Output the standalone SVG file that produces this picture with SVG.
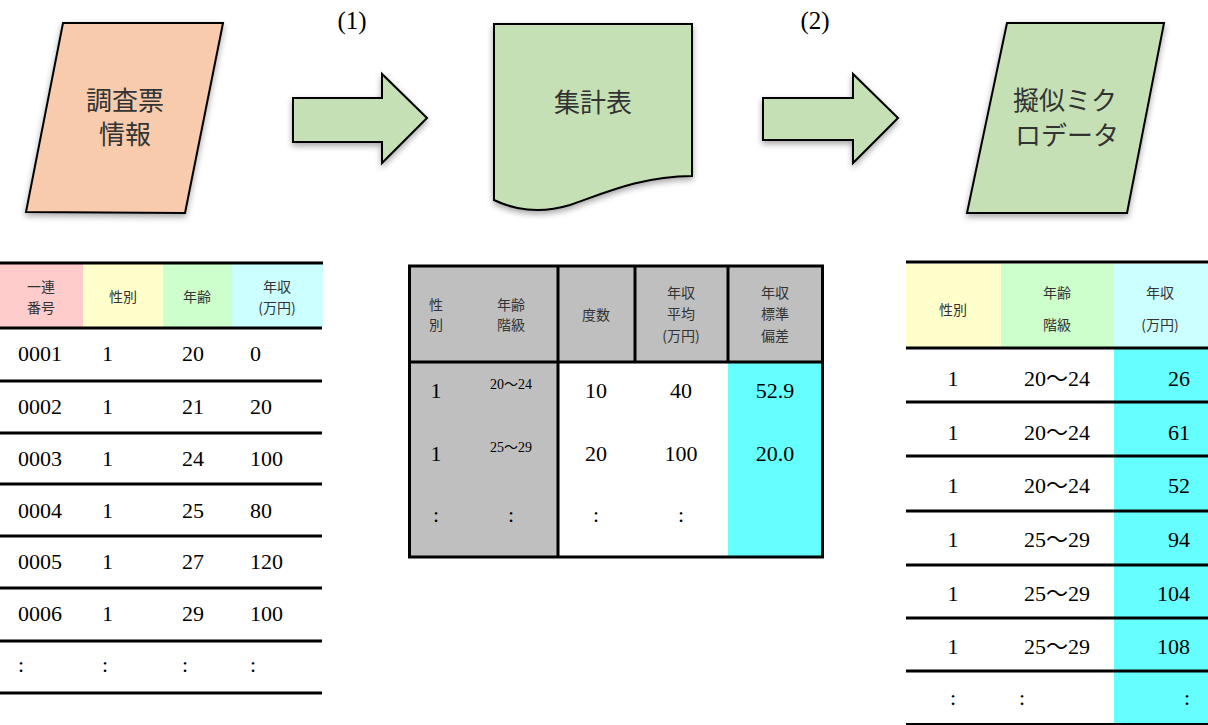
<svg xmlns="http://www.w3.org/2000/svg" width="1208" height="725" viewBox="0 0 1208 725">
<defs>
<filter id="sh" x="-20%" y="-20%" width="140%" height="150%">
<feDropShadow dx="0" dy="3" stdDeviation="3" flood-color="#000" flood-opacity="0.35"/>
</filter>
</defs>
<style>
.shape{stroke:#000;stroke-width:2;stroke-linejoin:miter}
.jp{font-family:"Noto Sans CJK JP","Noto Sans",sans-serif;fill:#333}
.big{font-size:26px}
.hd{font-size:14px;text-anchor:middle}
.ln{stroke:#000;stroke-width:3}
.thin{stroke:#000;stroke-width:2}
</style>
<rect width="1208" height="725" fill="#fff"/>

<g id="node-survey">
<polygon class="shape" filter="url(#sh)" points="63,23 223,23 185,213 26,212" fill="#F8CBAD"/>
<text class="jp big" x="125" y="110" text-anchor="middle">調査票</text>
<text class="jp big" x="125" y="144" text-anchor="middle">情報</text>
</g>

<g id="node-table">
<path class="shape" filter="url(#sh)" d="M494,24 L692,24 L692,176 C640,176 600,195 570,205 C540,214 515,210 494,200 Z" fill="#C5E0B4"/>
<text class="jp big" x="593" y="112" text-anchor="middle">集計表</text>
</g>

<g id="node-micro">
<polygon class="shape" filter="url(#sh)" points="1007,23 1164,23 1127,213 967,213" fill="#C5E0B4"/>
<text class="jp big" x="1065" y="110" text-anchor="middle">擬似ミク</text>
<text class="jp big" x="1067" y="145" text-anchor="middle">ロデータ</text>
</g>

<g id="connectors">
<polygon class="shape" filter="url(#sh)" points="293,98 382,98 382,74 427,118 382,163 382,142 293,142" fill="#C5E0B4"/>
<polygon class="shape" filter="url(#sh)" points="763,98 853,98 853,74 898,118 853,163 853,140 763,140" fill="#C5E0B4"/>
<text style="font-family:'Liberation Serif','DejaVu Serif',serif;font-size:25px" fill="#000" x="352" y="29" text-anchor="middle">(1)</text>
<text style="font-family:'Liberation Serif','DejaVu Serif',serif;font-size:25px" fill="#000" x="815" y="29" text-anchor="middle">(2)</text>
</g>

<g id="table-left">
<rect x="0" y="264" width="83" height="63" fill="#FFCCCC"/>
<rect x="83" y="264" width="80" height="63" fill="#FFFFCC"/>
<rect x="163" y="264" width="69" height="63" fill="#CCFFCC"/>
<rect x="232" y="264" width="91" height="63" fill="#CCFFFF"/>
<line class="ln" x1="0" y1="263" x2="323" y2="263"/>
<line class="ln" x1="0" y1="328" x2="322" y2="328"/>
<line class="ln" x1="0" y1="381" x2="322" y2="381"/>
<line class="ln" x1="0" y1="433" x2="322" y2="433"/>
<line class="ln" x1="0" y1="484" x2="322" y2="484"/>
<line class="ln" x1="0" y1="536" x2="322" y2="536"/>
<line class="ln" x1="0" y1="588" x2="322" y2="588"/>
<line class="ln" x1="0" y1="641" x2="322" y2="641"/>
<line class="ln" x1="0" y1="693" x2="322" y2="693"/>
<text class="jp hd" x="41" y="292">一連</text>
<text class="jp hd" x="41" y="313">番号</text>
<text class="jp hd" x="123" y="302">性別</text>
<text class="jp hd" x="197" y="302">年齢</text>
<text class="jp hd" x="277" y="292">年収</text>
<text class="jp hd" x="277" y="313">(万円)</text>
<g style="font-family:'Liberation Serif','DejaVu Serif',serif;font-size:22px" fill="#000">
<text x="18" y="361">0001</text><text x="102" y="361">1</text><text x="182" y="361">20</text><text x="250" y="361">0</text>
<text x="18" y="414">0002</text><text x="102" y="414">1</text><text x="182" y="414">21</text><text x="250" y="414">20</text>
<text x="18" y="466">0003</text><text x="102" y="466">1</text><text x="182" y="466">24</text><text x="250" y="466">100</text>
<text x="18" y="518">0004</text><text x="102" y="518">1</text><text x="182" y="518">25</text><text x="250" y="518">80</text>
<text x="18" y="569">0005</text><text x="102" y="569">1</text><text x="182" y="569">27</text><text x="250" y="569">120</text>
<text x="18" y="621">0006</text><text x="102" y="621">1</text><text x="182" y="621">29</text><text x="250" y="621">100</text>
<text x="18" y="672">:</text><text x="102" y="672">:</text><text x="182" y="672">:</text><text x="250" y="672">:</text>
</g>
</g>

<g id="table-middle">
<rect x="408" y="265" width="416" height="97" fill="#BFBFBF"/>
<rect x="408" y="362" width="150" height="196" fill="#BFBFBF"/>
<rect x="558" y="362" width="170" height="196" fill="#FFFFFF"/>
<rect x="728" y="362" width="96" height="196" fill="#66FFFF"/>
<rect x="409.5" y="266" width="413" height="291" fill="none" stroke="#000" stroke-width="3"/>
<line class="ln" x1="408" y1="362" x2="824" y2="362"/>
<line class="ln" x1="558" y1="265" x2="558" y2="558"/>
<line class="ln" x1="635" y1="265" x2="635" y2="362"/>
<line class="ln" x1="728" y1="265" x2="728" y2="362"/>
<text class="jp hd" x="436" y="310">性</text>
<text class="jp hd" x="436" y="330">別</text>
<text class="jp hd" x="511" y="310">年齢</text>
<text class="jp hd" x="511" y="330">階級</text>
<text class="jp hd" x="596" y="320">度数</text>
<text class="jp hd" x="681" y="298">年収</text>
<text class="jp hd" x="681" y="319">平均</text>
<text class="jp hd" x="681" y="341">(万円)</text>
<text class="jp hd" x="775" y="298">年収</text>
<text class="jp hd" x="775" y="319">標準</text>
<text class="jp hd" x="775" y="341">偏差</text>
<g style="font-family:'Liberation Serif','DejaVu Serif','Noto Sans CJK JP',serif;font-size:22px" fill="#000" text-anchor="middle">
<text x="436" y="398">1</text><text style="font-size:14px" x="511" y="389">20～24</text><text x="596" y="398">10</text><text x="681" y="398">40</text><text x="775" y="398">52.9</text>
<text x="436" y="461">1</text><text style="font-size:14px" x="511" y="452">25～29</text><text x="596" y="461">20</text><text x="681" y="461">100</text><text x="775" y="461">20.0</text>
<text x="436" y="522">:</text><text x="511" y="522">:</text><text x="596" y="522">:</text><text x="681" y="522">:</text>
</g>
</g>

<g id="table-right">
<rect x="906" y="264" width="95" height="83" fill="#FFFFCC"/>
<rect x="1001" y="264" width="113" height="83" fill="#CCFFCC"/>
<rect x="1114" y="264" width="94" height="83" fill="#CCFFFF"/>
<rect x="1114" y="348" width="94" height="377" fill="#66FFFF"/>
<line class="ln" x1="906" y1="262" x2="1208" y2="262"/>
<line class="ln" x1="906" y1="348" x2="1208" y2="348"/>
<line class="ln" x1="906" y1="402" x2="1208" y2="402"/>
<line class="ln" x1="906" y1="456" x2="1208" y2="456"/>
<line class="ln" x1="906" y1="511" x2="1208" y2="511"/>
<line class="ln" x1="906" y1="565" x2="1208" y2="565"/>
<line class="ln" x1="906" y1="618" x2="1208" y2="618"/>
<line class="ln" x1="906" y1="671" x2="1208" y2="671"/>
<line class="thin" x1="906" y1="724" x2="1208" y2="724"/>
<text class="jp hd" x="953" y="315">性別</text>
<text class="jp hd" x="1057" y="298">年齢</text>
<text class="jp hd" x="1057" y="330">階級</text>
<text class="jp hd" x="1160" y="298">年収</text>
<text class="jp hd" x="1160" y="330">(万円)</text>
<g style="font-family:'Liberation Serif','DejaVu Serif','Noto Sans CJK JP',serif;font-size:22px" fill="#000">
<text x="953" y="386" text-anchor="middle">1</text><text x="1057" y="386" text-anchor="middle">20～24</text><text x="1190" y="386" text-anchor="end">26</text>
<text x="953" y="440" text-anchor="middle">1</text><text x="1057" y="440" text-anchor="middle">20～24</text><text x="1190" y="440" text-anchor="end">61</text>
<text x="953" y="493" text-anchor="middle">1</text><text x="1057" y="493" text-anchor="middle">20～24</text><text x="1190" y="493" text-anchor="end">52</text>
<text x="953" y="547" text-anchor="middle">1</text><text x="1057" y="547" text-anchor="middle">25～29</text><text x="1190" y="547" text-anchor="end">94</text>
<text x="953" y="601" text-anchor="middle">1</text><text x="1057" y="601" text-anchor="middle">25～29</text><text x="1190" y="601" text-anchor="end">104</text>
<text x="953" y="654" text-anchor="middle">1</text><text x="1057" y="654" text-anchor="middle">25～29</text><text x="1190" y="654" text-anchor="end">108</text>
<text x="953" y="705" text-anchor="middle">:</text><text x="1022" y="705" text-anchor="middle">:</text><text x="1190" y="705" text-anchor="end">:</text>
</g>
</g>
</svg>
